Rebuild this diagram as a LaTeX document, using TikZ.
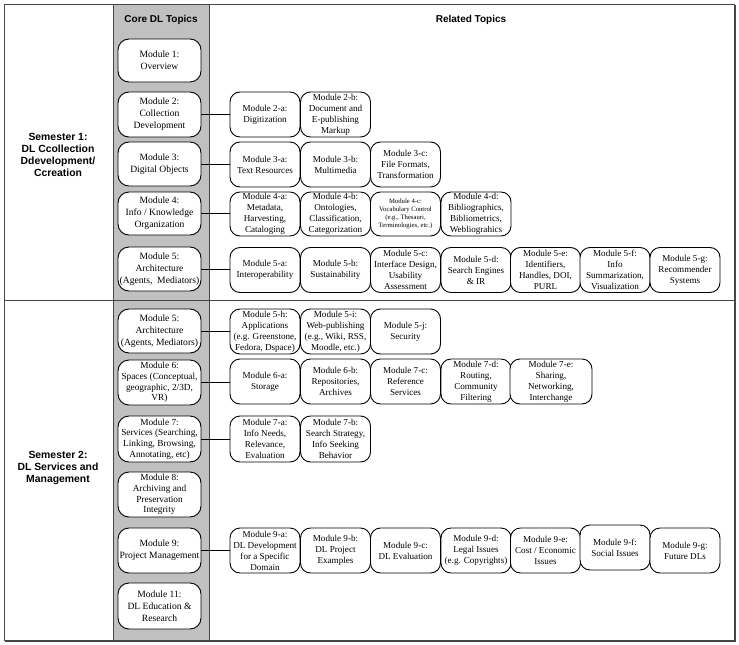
\documentclass[tikz,border=0pt]{standalone}
\usepackage{fontspec}
\setmainfont{Liberation Serif}
\setsansfont{Liberation Sans}
\definecolor{colgray}{RGB}{192,192,192}
\definecolor{framegray}{RGB}{70,70,70}
\newcommand\corefnt{\fontsize{9.6}{12}\selectfont}
\newcommand\corefntb{\fontsize{9.3}{10.6}\selectfont}
\newcommand\relfnt{\fontsize{9.1}{11}\selectfont}
\newcommand\tinyfnt{\fontsize{6.7}{8}\selectfont}
\tikzset{
  corebox/.style={draw, line width=0.9pt, rounded corners=11pt, fill=white,
    minimum width=83pt, minimum height=44pt, inner sep=0pt, align=center, font=\corefnt},
  relbox/.style={draw, line width=0.9pt, rounded corners=10pt, fill=white,
    minimum width=70pt, minimum height=45pt, inner sep=0pt, align=center, font=\relfnt},
  hdr/.style={font=\sffamily\bfseries\fontsize{10}{12}\selectfont, align=center, inner sep=0pt},
  sem/.style={font=\sffamily\bfseries\fontsize{10.4}{12}\selectfont, align=center, inner sep=0pt},
  conn/.style={draw, line width=0.9pt},
  divider/.style={draw=framegray, line width=1pt}
}
\begin{document}
\begin{tikzpicture}[x=1pt,y=-1pt]
\useasboundingbox (0,0) rectangle (739,645);
% background and column
\fill[white] (0,0) rectangle (739,645);
\fill[colgray] (113,4) rectangle (209,640);
\draw[divider] (113,4) -- (113,640);
\draw[divider] (209,4) -- (209,640);
\draw[divider] (4,300) -- (734,300);
\draw[framegray, line width=1.6pt] (735,5) -- (735,641) -- (5,641);
\draw[divider] (4,4) rectangle (734,640);
% headers
\node[hdr] (hcore) at (161,20) {Core DL Topics};
\node[hdr] (hrel) at (471,20) {Related Topics};
\node[sem] (s1) at (58,155) {Semester 1:\\DL Ccollection\\Ddevelopment/\\Ccreation};
\node[sem] (s2) at (58,468) {Semester 2:\\DL Services and\\Management};
% core modules
\node[corebox, minimum height=43pt] (m1) at (159.5,60.5) {Module 1:\\Overview};
\node[corebox, minimum height=45pt] (m2) at (159.5,114.5) {Module 2:\\Collection\\Development};
\node[corebox] (m3) at (159.5,164) {Module 3:\\Digital Objects};
\node[corebox, minimum height=43pt] (m4) at (159.5,213.5) {Module 4:\\Info / Knowledge\\Organization};
\node[corebox] (m5) at (159.5,269) {Module 5:\\Architecture\\(Agents,\ \ Mediators)};
\node[corebox] (m5b) at (159.5,331) {Module 5:\\Architecture\\(Agents, Mediators)};
\node[corebox, minimum height=45pt, font=\corefntb] (m6) at (159.5,382.5) {Module 6:\\Spaces (Conceptual,\\geographic, 2/3D,\\VR)};
\node[corebox, minimum height=46pt, font=\corefntb] (m7) at (159.5,439) {Module 7:\\Services (Searching,\\Linking, Browsing,\\Annotating, etc)};
\node[corebox, minimum height=45pt, font=\corefntb] (m8) at (159.5,494.5) {Module 8:\\Archiving and\\Preservation\\Integrity};
\node[corebox, minimum height=45pt] (m9) at (159.5,550.5) {Module 9:\\Project Management};
\node[corebox, minimum height=46pt] (m11) at (159.5,606) {Module 11:\\DL Education \&\\Research};
% row 2
\node[relbox] (r2a) at (265,114.5) {Module 2-a:\\Digitization};
\node[relbox] (r2b) at (335.5,114.5) {Module 2-b:\\Document and\\E-publishing\\Markup};
% row 3
\node[relbox] (r3a) at (265,164.5) {Module 3-a:\\Text Resources};
\node[relbox] (r3b) at (335.5,164.5) {Module 3-b:\\Multimedia};
\node[relbox] (r3c) at (405.5,164.5) {Module 3-c:\\File Formats,\\Transformation};
% row 4
\node[relbox, minimum height=44pt] (r4a) at (265,214) {Module 4-a:\\Metadata,\\Harvesting,\\Cataloging};
\node[relbox, minimum height=44pt] (r4b) at (335.5,214) {Module 4-b:\\Ontologies,\\Classification,\\Categorization};
\node[relbox, minimum height=44pt, font=\tinyfnt] (r4c) at (405.5,214) {Module 4-c:\\Vocabulary Control\\(e.g., Thesauri,\\Terminologies, etc.)};
\node[relbox, minimum height=44pt] (r4d) at (476,214) {Module 4-d:\\Bibliographics,\\Bibliometrics,\\Webliograhics};
% row 5
\node[relbox] (r5a) at (265,270) {Module 5-a:\\Interoperability};
\node[relbox] (r5b) at (335.5,270) {Module 5-b:\\Sustainability};
\node[relbox] (r5c) at (405.5,270) {Module 5-c:\\Interface Design,\\Usability\\Assessment};
\node[relbox] (r5d) at (476,270) {Module 5-d:\\Search Engines\\\& IR};
\node[relbox] (r5e) at (545.5,270) {Module 5-e:\\Identifiers,\\Handles, DOI,\\PURL};
\node[relbox] (r5f) at (615,270) {Module 5-f:\\Info\\Summarization,\\Visualization};
\node[relbox] (r5g) at (685,270) {Module 5-g:\\Recommender\\Systems};
% semester 2 row 5
\node[relbox] (r5h) at (265,331.5) {Module 5-h:\\Applications\\(e.g. Greenstone,\\Fedora, Dspace)};
\node[relbox] (r5i) at (335.5,331.5) {Module 5-i:\\Web-publishing\\(e.g., Wiki, RSS,\\Moodle, etc.)};
\node[relbox] (r5j) at (405.5,331.5) {Module 5-j:\\Security};
% row 6
\node[relbox] (r6a) at (265,381.5) {Module 6-a:\\Storage};
\node[relbox] (r6b) at (335.5,381.5) {Module 6-b:\\Repositories,\\Archives};
\node[relbox] (r7c) at (405.5,381.5) {Module 7-c:\\Reference\\Services};
\node[relbox] (r7d) at (476,381.5) {Module 7-d:\\Routing,\\Community\\Filtering};
\node[relbox, minimum width=82pt] (r7e) at (551,381.5) {Module 7-e:\\Sharing,\\Networking,\\Interchange};
% row 7
\node[relbox, minimum height=46pt] (r7a) at (265,439) {Module 7-a:\\Info Needs,\\Relevance,\\Evaluation};
\node[relbox, minimum height=46pt] (r7b) at (335.5,439) {Module 7-b:\\Search Strategy,\\Info Seeking\\Behavior};
% row 9
\node[relbox] (r9a) at (265,550.5) {Module 9-a:\\DL Development\\for a Specific\\Domain};
\node[relbox] (r9b) at (335.5,550.5) {Module 9-b:\\DL Project\\Examples};
\node[relbox] (r9c) at (405.5,550.5) {Module 9-c:\\DL Evaluation};
\node[relbox] (r9d) at (476,550.5) {Module 9-d:\\Legal Issues\\(e.g. Copyrights)};
\node[relbox] (r9e) at (545.5,550.5) {Module 9-e:\\Cost / Economic\\Issues};
\node[relbox] (r9f) at (615,547.5) {Module 9-f:\\Social Issues};
\node[relbox] (r9g) at (685,550.5) {Module 9-g:\\Future DLs};
% connectors
\draw[conn] (m2.east) -- (m2.east -| r2a.west);
\draw[conn] (m3.east) -- (m3.east -| r3a.west);
\draw[conn] (m4.east) -- (m4.east -| r4a.west);
\draw[conn] (m5.east) -- (m5.east -| r5a.west);
\draw[conn] (m5b.east) -- (m5b.east -| r5h.west);
\draw[conn] (m6.east) -- (m6.east -| r6a.west);
\draw[conn] (m7.east) -- (m7.east -| r7a.west);
\draw[conn] (m9.east) -- (m9.east -| r9a.west);
\end{tikzpicture}
\end{document}
